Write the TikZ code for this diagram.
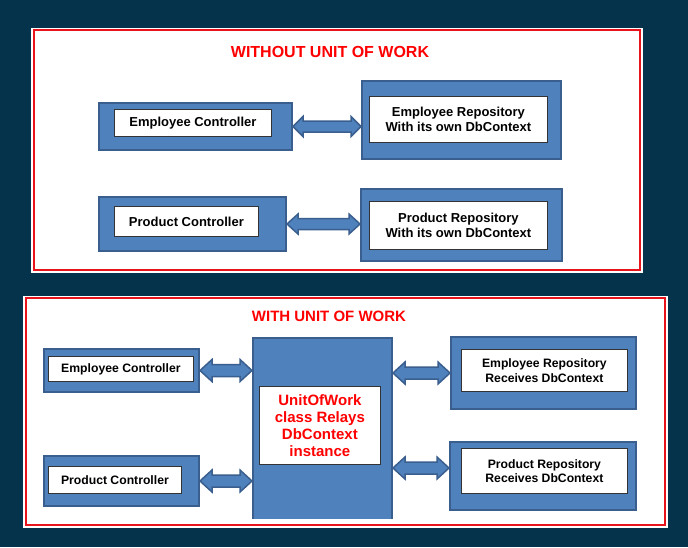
\documentclass[tikz,border=0pt]{standalone}
\usepackage{fontspec}
\setmainfont{Liberation Sans}
\usetikzlibrary{positioning,calc}
\definecolor{navybg}{HTML}{05334B}
\definecolor{boxfill}{HTML}{4F81BD}
\definecolor{boxedge}{HTML}{3A5F8E}
\definecolor{panelred}{HTML}{E8141C}
\definecolor{titlered}{HTML}{FF0000}

\begin{document}
\begin{tikzpicture}[
      x=1pt,y=-1pt,
      panel/.style={draw=panelred,line width=2pt,fill=white,preaction={draw=white,line width=5pt}},
      title/.style={text=titlered,font=\bfseries\fontsize{16}{19}\selectfont,inner sep=0pt},
      bluebox/.style={draw=boxedge,fill=boxfill,line width=2pt,inner sep=0pt},
      textbox/.style={draw=black!80,fill=white,line width=0.8pt,inner sep=0pt,align=center,
        font=\bfseries\fontsize{13}{15.5}\selectfont},
      smalltext/.style={font=\bfseries\fontsize{12.2}{14.5}\selectfont},
      fatarrow/.style n args={3}{draw=boxedge,fill=boxfill,line width=1.5pt,line join=miter,
        to path={let \p1=(\tikztostart), \p2=(\tikztotarget) in
          (\x1,\y1) -- ({\x1+#3pt},{\y1+#1pt}) -- ({\x1+#3pt},{\y1+#2pt})
          -- ({\x2-#3pt},{\y1+#2pt}) -- ({\x2-#3pt},{\y1+#1pt}) -- (\x2,\y1)
          -- ({\x2-#3pt},{\y1-#1pt}) -- ({\x2-#3pt},{\y1-#2pt})
          -- ({\x1+#3pt},{\y1-#2pt}) -- ({\x1+#3pt},{\y1-#1pt}) -- cycle}},
      ]
      \fill[navybg] (0,0) rectangle (688,547);
      \useasboundingbox (0,0) rectangle (688,547);

      \draw[panel] (33.5,30) rectangle (640,270);
      \node[title] (withouttitle) at (330,52) {WITHOUT UNIT OF WORK};
      \node[bluebox,minimum width=193,minimum height=47] (empctrl) at (195.5,126.5) {};
      \node[textbox,minimum width=157,minimum height=27,below right=7pt and 16pt of empctrl.north west]
        (empctrltext) {Employee Controller};
      \node[bluebox,minimum width=199,minimum height=78] (emprepo) at (461.5,120) {};
      \node[textbox,minimum width=178,minimum height=46,below right=16pt and 8pt of emprepo.north west]
        (emprepotext) {Employee Repository\\With its own DbContext};
      \node[bluebox,minimum width=187,minimum height=54] (prodctrl) at (192.5,224) {};
      \node[textbox,minimum width=144,minimum height=30,below right=10pt and 16pt of prodctrl.north west]
        (prodctrltext) {Product Controller};
      \node[bluebox,minimum width=201,minimum height=72] (prodrepo) at (461.5,225) {};
      \node[textbox,minimum width=178,minimum height=48,below right=13pt and 9pt of prodrepo.north west]
        (prodrepotext) {Product Repository\\With its own DbContext};
      \path[fatarrow={10}{5.5}{10}] (empctrl.east) to (emprepo.west);
      \path[fatarrow={10}{5.5}{11}] (prodctrl.east) to (prodrepo.west);

      \draw[panel] (25.5,298) rectangle (665,525);
      \node[title,font=\bfseries\fontsize{15}{18}\selectfont] (withtitle) at (329,316) {WITH UNIT OF WORK};
      \node[bluebox,minimum width=155,minimum height=43] (empctrl2) at (121.5,370.5) {};
      \node[textbox,smalltext,minimum width=145,minimum height=25,below right=8pt and 5pt of empctrl2.north west]
        (empctrl2text) {Employee Controller};
      \node[bluebox,minimum width=155,minimum height=50] (prodctrl2) at (121.5,481) {};
      \node[textbox,smalltext,minimum width=133,minimum height=27,below right=11pt and 5pt of prodctrl2.north west]
        (prodctrl2text) {Product Controller};
      \begin{scope}
        \clip (0,0) rectangle (688,518);
        \node[bluebox,minimum width=139,minimum height=190] (uow) at (322.5,433) {};
      \end{scope}
      \node[textbox,text=titlered,font=\bfseries\fontsize{15}{17}\selectfont,minimum width=121,minimum height=78,
        below right=49pt and 7pt of uow.north west] (uowtext) {UnitOfWork\\class Relays\\DbContext\\instance};
      \node[bluebox,minimum width=185,minimum height=72] (emprepo2) at (543.5,373) {};
      \node[textbox,smalltext,minimum width=166,minimum height=42,below right=13pt and 11pt of emprepo2.north west]
        (emprepo2text) {Employee Repository\\Receives DbContext};
      \node[bluebox,minimum width=186,minimum height=68] (prodrepo2) at (543,476) {};
      \node[textbox,smalltext,minimum width=166,minimum height=45,below right=7pt and 12pt of prodrepo2.north west]
        (prodrepo2text) {Product Repository\\Receives DbContext};
      \path[fatarrow={11}{6}{12}] (empctrl2.east) to (uow.west);
      \path[fatarrow={11}{6}{12}] (prodctrl2.east) to (uow.west);
      \path[fatarrow={11}{6}{12}] (uow.east |- emprepo2.west) to (emprepo2.west);
      \path[fatarrow={11}{6}{12}] ($(uow.east |- prodrepo2.west)+(0,-8)$) to (prodrepo2.west);
\end{tikzpicture}
\end{document}
